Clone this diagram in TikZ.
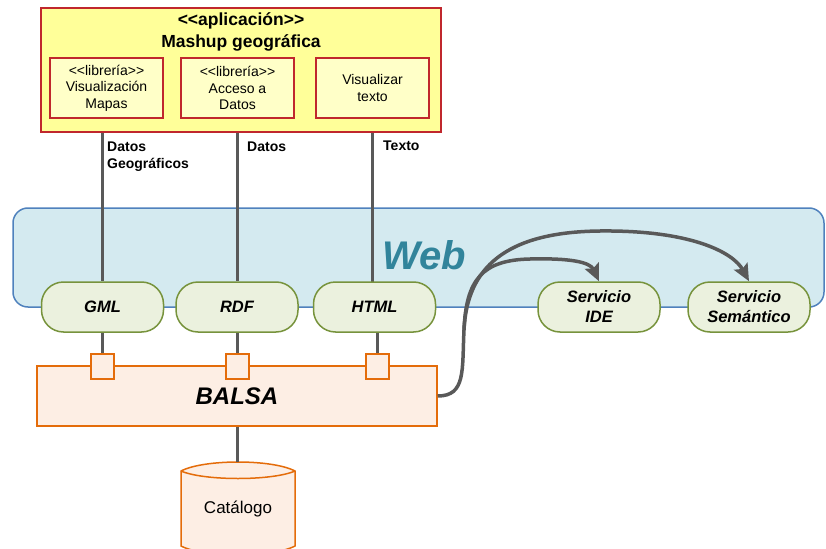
\documentclass[tikz,border=0pt]{standalone}
\usepackage{fontspec}
\setmainfont{Liberation Sans}
\usetikzlibrary{arrows.meta,calc,backgrounds}
\definecolor{appfill}{HTML}{FFFF99}
\definecolor{libfill}{HTML}{FFFFC8}
\definecolor{appred}{HTML}{C0272D}
\definecolor{webfill}{HTML}{D4EAF0}
\definecolor{webline}{HTML}{4F81BD}
\definecolor{webtext}{HTML}{31849B}
\definecolor{pillfill}{HTML}{EBF1DE}
\definecolor{pillgreen}{HTML}{77933C}
\definecolor{balsafill}{HTML}{FDEEE4}
\definecolor{balsaor}{HTML}{E46C0A}
\definecolor{linegray}{HTML}{595959}
\newcommand{\lltag}{\textless\kern0pt\textless}
\newcommand{\ggtag}{\textgreater\kern0pt\textgreater}
\begin{document}
\begin{tikzpicture}[x=1pt,y=-1pt,
  appbox/.style={draw=appred, line width=1.5pt, fill=appfill, inner sep=0, minimum width=400pt, minimum height=124pt},
  libbox/.style={draw=appred, line width=1.5pt, fill=libfill, minimum width=113pt, minimum height=60pt, inner sep=0, align=center, font=\fontsize{14}{16.5}\selectfont},
  webbox/.style={draw=webline, line width=1.5pt, fill=webfill, rounded corners=15pt, inner sep=0},
  pill/.style={draw=pillgreen, line width=1.5pt, fill=pillfill, rounded corners=22pt, minimum width=122pt, minimum height=50pt, inner sep=0, align=center, font=\fontsize{16.5}{20}\selectfont\bfseries\itshape},
  port/.style={draw=balsaor, line width=1.5pt, fill=balsafill, minimum width=23pt, minimum height=25pt, inner sep=0},
  balsabox/.style={draw=balsaor, line width=1.5pt, fill=balsafill, minimum width=400pt, minimum height=60pt, inner sep=0, font=\fontsize{24}{24}\selectfont\bfseries\itshape},
  conn/.style={draw=linegray, line width=3pt},
  lbl/.style={font=\fontsize{14}{16.5}\selectfont\bfseries, anchor=north west, inner sep=0, align=left},
  flow/.style={draw=linegray, line width=3.5pt, -{Stealth[length=17pt,width=15pt,inset=3pt]}}
]
\useasboundingbox (0,0) rectangle (826,548);

% Application box
\node[appbox] (app) at (241,70) {};
\node[align=center, inner sep=0, font=\fontsize{17.5}{22}\selectfont\bfseries] (title) at (241,32)
  {\lltag aplicación\ggtag\\Mashup geográfica};
\node[libbox] (v1) at (106.5,88) {\lltag librería\ggtag\\Visualización\\Mapas};
\node[libbox] (v2) at (237.5,88) {\lltag librería\ggtag\\Acceso a\\Datos};
\node[libbox] (v3) at (372.5,88) {Visualizar\\texto};

% Web title
\node[font=\fontsize{40}{40}\selectfont\bfseries\itshape, text=webtext, inner sep=0] (webtitle) at (424,255) {Web};

% Pills
\node[pill] (gml) at (102.5,307) {GML};
\node[pill] (rdf) at (237,307) {RDF};
\node[pill] (html) at (374.5,307) {HTML};
\node[pill] (ide) at (599,307) {Servicio\\IDE};
\node[pill] (sem) at (749,307) {Servicio\\Semántico};

% BALSA and ports
\node[balsabox] (balsa) at (237,396) {BALSA};
\node[port] (p1) at (102.5,366.5) {};
\node[port] (p2) at (237.5,366.5) {};
\node[port] (p3) at (377.5,366.5) {};

\coordinate (hn) at (372,282);

\begin{scope}[on background layer]
  \node[webbox, minimum width=811pt, minimum height=99pt] (web) at (418.5,257.5) {};
  \draw[conn] (gml.north |- v1.south) -- (gml.north);
  \draw[conn] (rdf.north |- v2.south) -- (rdf.north);
  \draw[conn] (hn |- v3.south) -- (hn);
\end{scope}

\draw[conn] (p1.north |- gml.south) -- (p1.north);
\draw[conn] (p2.north |- rdf.south) -- (p2.north);
\draw[conn] (p3.north |- html.south) -- (p3.north);

% labels
\node[lbl] (l1) at (107,142) {Datos\\Geográficos};
\node[lbl] (l2) at (247,142) {Datos};
\node[lbl] (l3) at (383,141) {Texto};

% catalog
\filldraw[draw=balsaor, fill=balsafill, line width=1.5pt] (181,471) .. controls (204,459) and (272,459) .. (295,471) -- (295,546) .. controls (272,558) and (204,558) .. (181,546) -- cycle;
\draw[balsaor, line width=1.5pt] (181,471) .. controls (204,481) and (272,481) .. (295,471);
\node[font=\fontsize{17}{17}\selectfont, inner sep=0] (cat) at (238,509) {Catálogo};
\coordinate (cattop) at (237,462);
\draw[conn] (balsa.south) -- (cattop);

% flows
\coordinate (bend) at (464,330);
\draw[flow] (balsa.east) .. controls (466,396) and (462,370) .. (bend) .. controls (466,280) and (482,260) .. (530,259) .. controls (570,258) and (590,262) .. (ide.north);
\draw[flow] (bend) .. controls (467,268) and (505,232) .. (600,231) .. controls (690,230) and (733,252) .. (sem.north);
\end{tikzpicture}
\end{document}
